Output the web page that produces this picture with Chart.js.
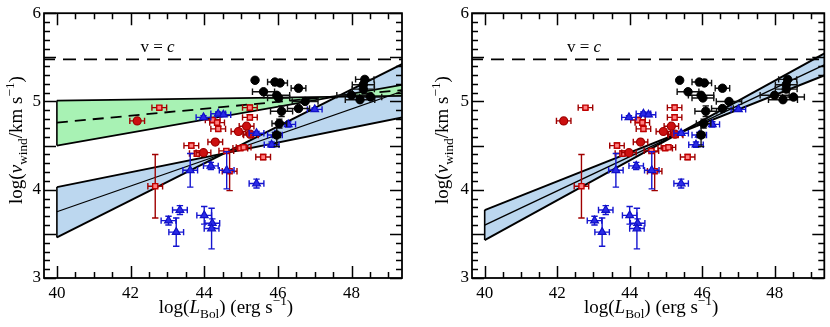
<!DOCTYPE html>
<html><head><meta charset="utf-8">
<script src="https://cdn.jsdelivr.net/npm/chart.js@4/dist/chart.umd.min.js"></script>
<style>
html,body{margin:0;padding:0;background:#fff;}
#wrap{position:relative;width:830px;height:327px;}
canvas{position:absolute;top:0;}
</style></head><body>
<div id="wrap">
<canvas id="c1" width="415" height="327" style="left:0px"></canvas>
<canvas id="c2" width="415" height="327" style="left:415px"></canvas>
</div>
<script>
// ---------- axis ticks ----------
const xTickLabels = [40, 42, 44, 46, 48];
const yTickLabels = [3, 4, 5, 6];
const xRange = [39.65, 49.37];
const yRange = [3, 6];
const lightSpeed = 5.477; // log(c / km s^-1)

// ---------- data: [logL, logV, xerr, yerr] ----------
const redSquares = [
  [42.78, 4.93, 0.2, 0.02], [42.67, 4.04, 0.2, 0.36], [43.65, 4.50, 0.2, 0.03],
  [43.80, 4.41, 0.2, 0.03], [44.23, 4.79, 0.2, 0.03], [44.35, 4.76, 0.2, 0.03],
  [44.38, 4.69, 0.2, 0.03], [44.69, 4.21, 0.2, 0.22], [45.24, 4.93, 0.2, 0.03],
  [45.24, 4.82, 0.2, 0.03], [45.60, 4.37, 0.2, 0.03], [44.98, 4.47, 0.2, 0.02],
  [45.07, 4.48, 0.2, 0.02], [44.60, 4.44, 0.2, 0.02], [45.27, 4.62, 0.2, 0.02]
];
const redCircles = [
  [42.18, 4.78, 0.2, 0.02], [43.98, 4.42, 0.2, 0.02], [44.30, 4.54, 0.2, 0.02],
  [44.93, 4.66, 0.2, 0.02], [45.15, 4.72, 0.2, 0.02], [45.25, 4.63, 0.2, 0.02]
];
const blueTriangles = [
  [43.98, 4.82, 0.2, 0.02], [44.38, 4.86, 0.2, 0.02], [44.52, 4.85, 0.2, 0.02],
  [45.42, 4.64, 0.2, 0.02], [45.92, 4.62, 0.2, 0.03], [45.83, 4.51, 0.2, 0.03],
  [46.28, 4.74, 0.2, 0.03], [47.00, 4.91, 0.2, 0.02], [43.62, 4.22, 0.2, 0.19],
  [44.18, 4.27, 0.2, 0.04], [44.61, 4.22, 0.2, 0.21], [45.42, 4.07, 0.2, 0.05],
  [43.34, 3.77, 0.2, 0.05], [43.03, 3.65, 0.2, 0.05], [43.24, 3.52, 0.2, 0.16],
  [44.00, 3.71, 0.2, 0.10], [44.22, 3.62, 0.2, 0.05], [44.20, 3.56, 0.2, 0.23]
];
const blackCircles = [
  [45.38, 5.24, 0, 0], [45.61, 5.11, 0.3, 0.02], [45.92, 5.22, 0.2, 0.02],
  [46.06, 5.21, 0.2, 0.02], [46.56, 5.15, 0.2, 0.03], [45.97, 5.07, 0.35, 0.02],
  [46.02, 5.04, 0.3, 0.02], [46.74, 5.00, 0.35, 0.02], [46.10, 4.89, 0.3, 0.06],
  [46.56, 4.92, 0.3, 0.02], [46.04, 4.75, 0.2, 0.05], [45.97, 4.62, 0.1, 0.13],
  [48.36, 5.25, 0.25, 0.03], [48.32, 5.19, 0.3, 0.03], [48.32, 5.14, 0.3, 0.03],
  [48.00, 5.07, 0.4, 0.02], [48.23, 5.02, 0.4, 0.02], [48.52, 5.05, 0.3, 0.02]
];

// ---------- fits: values at fitX ----------
const fitX = [40, 49.4];
const leftGreenUpper = [5.01, 5.063];
const leftGreenLower = [4.50, 5.19];
const leftGreenMid   = [4.76, 5.13];
const leftBlueUpper  = [4.03, 4.82];
const leftBlueLower  = [3.46, 5.43];
const leftBlueMid    = [3.75, 5.12];
const rightBlueUpper = [3.77, 5.30];
const rightBlueLower = [3.43, 5.55];
const rightBlueMid   = [3.60, 5.42];

// ---------- helpers ----------
const pts = arr => arr.map(p => ({x: p[0], y: p[1], xe: p[2], ye: p[3]}));
const fitLine = ys => fitX.map((x, i) => ({x: x, y: ys[i]}));
const edge = (a, b) => [{x: fitX[0], y: a[0]}, {x: fitX[0], y: b[0]}];

const GREEN = '#a8f2b4';
const BLUE = '#bcd7ef';
const FONT = "'Liberation Serif', 'DejaVu Serif', serif";

function pointSets() {
  return [
    {label: 'black', data: pts(blackCircles), pointStyle: 'circle', pointRadius: 4.2,
     backgroundColor: '#000', borderColor: '#000', borderWidth: 1, errColor: '#111', order: 1},
    {label: 'blue', data: pts(blueTriangles), pointStyle: 'triangle', pointRadius: 4.5,
     backgroundColor: '#2a2ae6', borderColor: '#1010c8', borderWidth: 1.2, errColor: '#1515d0', order: 2},
    {label: 'redC', data: pts(redCircles), pointStyle: 'circle', pointRadius: 4.0,
     backgroundColor: '#cc1010', borderColor: '#a00000', borderWidth: 1.2, errColor: '#a00000', order: 3},
    {label: 'redS', data: pts(redSquares), pointStyle: 'rect', pointRadius: 3.6,
     backgroundColor: '#ff8080', borderColor: '#c00000', borderWidth: 1.4, errColor: '#a00000', order: 4}
  ];
}
function lineSet(data, opts) {
  return Object.assign({type: 'line', data: data, showLine: true, pointRadius: 0,
    borderColor: '#000', borderWidth: 1.8, fill: false, tension: 0, order: 10}, opts);
}

// ---------- plugins ----------
const errorBars = {
  id: 'errorBars',
  beforeDatasetDraw(chart, args) {
    const ds = chart.data.datasets[args.index];
    if (!ds.errColor) return;
    const {ctx, chartArea: a, scales: {x, y}} = chart;
    ctx.save();
    ctx.beginPath(); ctx.rect(a.left, a.top, a.right - a.left, a.bottom - a.top); ctx.clip();
    ctx.strokeStyle = ds.errColor; ctx.lineWidth = 1.4;
    const cap = 3.2;
    ds.data.forEach(p => {
      const px = x.getPixelForValue(p.x), py = y.getPixelForValue(p.y);
      ctx.beginPath();
      if (p.xe) {
        const l = x.getPixelForValue(p.x - p.xe), r = x.getPixelForValue(p.x + p.xe);
        ctx.moveTo(l, py); ctx.lineTo(r, py);
        ctx.moveTo(l, py - cap); ctx.lineTo(l, py + cap);
        ctx.moveTo(r, py - cap); ctx.lineTo(r, py + cap);
      }
      if (p.ye) {
        const t = y.getPixelForValue(p.y + p.ye), b = y.getPixelForValue(p.y - p.ye);
        ctx.moveTo(px, t); ctx.lineTo(px, b);
        ctx.moveTo(px - cap, t); ctx.lineTo(px + cap, t);
        ctx.moveTo(px - cap, b); ctx.lineTo(px + cap, b);
      }
      ctx.stroke();
    });
    ctx.restore();
  }
};

function richWidth(ctx, parts, S) {
  let w = 0;
  parts.forEach(p => {
    const s = (p.sub || p.sup) ? S * 0.7 : S;
    ctx.font = (p.it ? 'italic ' : '') + s + 'px ' + FONT;
    w += ctx.measureText(p.t).width;
  });
  return w;
}
function drawRich(ctx, parts, cx, base, S) {
  let x = cx - richWidth(ctx, parts, S) / 2;
  ctx.textAlign = 'left'; ctx.textBaseline = 'alphabetic'; ctx.fillStyle = '#000';
  parts.forEach(p => {
    const s = (p.sub || p.sup) ? S * 0.7 : S;
    ctx.font = (p.it ? 'italic ' : '') + s + 'px ' + FONT;
    const dy = p.sub ? S * 0.28 : (p.sup ? -S * 0.42 : 0);
    ctx.fillText(p.t, x, base + dy);
    x += ctx.measureText(p.t).width;
  });
}
const xTitle = [{t: 'log('}, {t: 'L', it: true}, {t: 'Bol', sub: true}, {t: ') (erg s'}, {t: '\u22121', sup: true}, {t: ')'}];
const yTitle = [{t: 'log('}, {t: 'v', it: true}, {t: 'wind', sub: true}, {t: '/km s'}, {t: '\u22121', sup: true}, {t: ')'}];

const frame = {
  id: 'frame',
  afterDraw(chart, args, o) {
    const {ctx, chartArea: a, scales: {x, y}} = chart;
    ctx.save();
    ctx.strokeStyle = '#000'; ctx.lineWidth = 1.5;
    ctx.beginPath();
    for (let k = Math.ceil(xRange[0] * 2); k <= Math.floor(xRange[1] * 2); k++) {
      const v = k / 2, px = Math.round(x.getPixelForValue(v)) + 0.5;
      const L = (v % 2 === 0) ? 12 : 6;
      ctx.moveTo(px, a.bottom); ctx.lineTo(px, a.bottom - L);
      ctx.moveTo(px, a.top); ctx.lineTo(px, a.top + L);
    }
    for (let k = Math.round(yRange[0] * 10); k <= Math.round(yRange[1] * 10); k++) {
      const py = Math.round(y.getPixelForValue(k / 10)) + 0.5;
      const L = (k % 5 === 0) ? 12 : 6;
      ctx.moveTo(a.left, py); ctx.lineTo(a.left + L, py);
      ctx.moveTo(a.right, py); ctx.lineTo(a.right - L, py);
    }
    ctx.stroke();
    ctx.lineWidth = 1.8;
    ctx.strokeRect(a.left, a.top, a.right - a.left, a.bottom - a.top);
    ctx.fillStyle = '#000'; ctx.textAlign = 'left'; ctx.textBaseline = 'alphabetic';
    ctx.font = '17px ' + FONT;
    const lx = x.getPixelForValue(o.vcX), ly = y.getPixelForValue(o.vcY);
    ctx.fillText('v = ', lx, ly);
    const w = ctx.measureText('v = ').width;
    ctx.font = 'italic 17px ' + FONT;
    ctx.fillText('c', lx + w, ly);
    const S = 19;
    drawRich(ctx, xTitle, (a.left + a.right) / 2 + 3, 313, S);
    ctx.save();
    ctx.translate(o.yTitleX, 140);
    ctx.rotate(-Math.PI / 2);
    drawRich(ctx, yTitle, 0, 5, S);
    ctx.restore();
    ctx.restore();
  }
};

function makeChart(id, lineSets, yAxisWidth, padRight, yTitleX) {
  return new Chart(document.getElementById(id), {
    type: 'scatter',
    data: {datasets: pointSets().concat(lineSets)},
    options: {
      responsive: false, animation: false, events: [],
      layout: {padding: {top: 7, right: padRight, left: 0, bottom: 0}},
      plugins: {legend: {display: false}, tooltip: {enabled: false},
        filler: {drawTime: 'beforeDatasetsDraw'},
        frame: {vcX: 42.27, vcY: 5.555, yTitleX: yTitleX}},
      scales: {
        x: {type: 'linear', min: xRange[0], max: xRange[1],
          afterBuildTicks: s => { s.ticks = xTickLabels.map(v => ({value: v})); },
          afterFit: s => { s.height = 49; },
          grid: {display: false, drawTicks: false}, border: {display: false},
          ticks: {font: {family: FONT, size: 17}, color: '#000', padding: 5, maxRotation: 0, autoSkip: false}},
        y: {type: 'linear', min: yRange[0], max: yRange[1],
          afterBuildTicks: s => { s.ticks = yTickLabels.map(v => ({value: v})); },
          afterFit: s => { s.width = yAxisWidth; },
          grid: {display: false, drawTicks: false}, border: {display: false},
          ticks: {font: {family: FONT, size: 17}, color: '#000', padding: 3}}
      }
    },
    plugins: [errorBars, frame]
  });
}

const cLine = [{x: xRange[0], y: lightSpeed}, {x: 49.4, y: lightSpeed}];

const leftLines = [
  lineSet(fitLine(leftGreenUpper), {fill: '+1', backgroundColor: GREEN, borderWidth: 1.9}),
  lineSet(fitLine(leftGreenLower), {borderWidth: 1.9}),
  lineSet(fitLine(leftGreenMid), {borderDash: [11, 7], borderWidth: 1.8, order: 5}),
  lineSet(fitLine(leftBlueUpper), {fill: '+1', backgroundColor: BLUE, borderWidth: 1.9}),
  lineSet(fitLine(leftBlueLower), {borderWidth: 1.9}),
  lineSet(fitLine(leftBlueMid), {borderWidth: 1.2}),
  lineSet(edge(leftGreenUpper, leftGreenLower), {borderWidth: 1.6}),
  lineSet(edge(leftBlueUpper, leftBlueLower), {borderWidth: 1.6}),
  lineSet(cLine, {borderDash: [13, 8], borderDashOffset: 2, borderWidth: 1.8})
];
const rightLines = [
  lineSet(fitLine(rightBlueUpper), {fill: '+1', backgroundColor: BLUE, borderWidth: 1.9}),
  lineSet(fitLine(rightBlueLower), {borderWidth: 1.9}),
  lineSet(fitLine(rightBlueMid), {borderWidth: 1.4}),
  lineSet(edge(rightBlueUpper, rightBlueLower), {borderWidth: 1.6}),
  lineSet(cLine, {borderDash: [13, 8], borderDashOffset: 2, borderWidth: 1.8})
];

makeChart('c1', leftLines, 44, 13, 17);
makeChart('c2', rightLines, 57, 2, 28);
</script>
</body></html>
